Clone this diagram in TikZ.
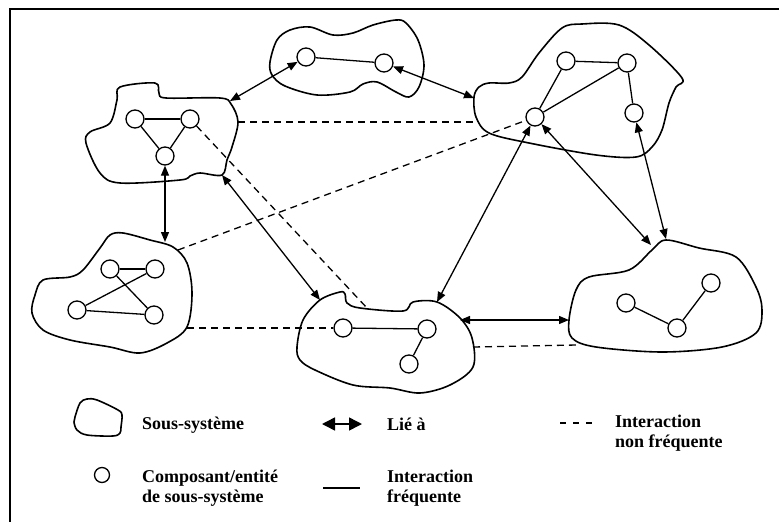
\documentclass[tikz,border=0pt]{standalone}
\usepackage{fontspec}
\setmainfont{Liberation Serif}
\usetikzlibrary{arrows.meta}
\begin{document}
\begin{tikzpicture}[x=1pt,y=-1pt,
  blob/.style={line width=1.6pt, line join=round},
  comp/.style={circle, draw, line width=1.3pt, fill=white, minimum size=18pt, inner sep=0pt},
  link/.style={line width=1.3pt},
  rare/.style={line width=1.3pt, dash pattern=on 7pt off 5pt},
  rel/.style={line width=1.3pt, {Triangle[length=10pt,width=8pt]}-{Triangle[length=10pt,width=8pt]}},
  lab/.style={anchor=base west, font=\bfseries\fontsize{18}{20}\selectfont, align=left, inner sep=0pt}]
\useasboundingbox (0,0) rectangle (779,522);

% frame
\draw[line width=1.6pt] (10,522) -- (10,9) -- (779,9);

% components
\node[comp] (s1a) at (135,119) {};
\node[comp] (s1b) at (190,119) {};
\node[comp] (s1c) at (165,156) {};
\node[comp] (s2a) at (306,57) {};
\node[comp] (s2b) at (384,63) {};
\node[comp] (s3a) at (566,61) {};
\node[comp] (s3b) at (627,63) {};
\node[comp] (s3c) at (634,113) {};
\node[comp] (s3d) at (535,117) {};
\node[comp] (s4a) at (110,269) {};
\node[comp] (s4b) at (155,269) {};
\node[comp] (s4c) at (77,310) {};
\node[comp] (s4d) at (154,315) {};
\node[comp] (s5a) at (343,328) {};
\node[comp] (s5b) at (427,329) {};
\node[comp] (s5c) at (409,364) {};
\node[comp] (s6a) at (626,303) {};
\node[comp] (s6b) at (677,328) {};
\node[comp] (s6c) at (711,283) {};

% points on subsystem outlines
\coordinate (b12) at (230,101);
\coordinate (b23) at (474,98);
\coordinate (b14) at (165,242);
\coordinate (b15) at (222,175);
\coordinate (b51) at (320,300);
\coordinate (b53) at (437,302);
\coordinate (b63a) at (651,245);
\coordinate (b63b) at (666,239);
\coordinate (b56) at (460,320);
\coordinate (b65) at (569,320);
\coordinate (d13a) at (238,122);
\coordinate (d13b) at (474,122);
\coordinate (d15) at (367,308);
\coordinate (d43) at (178,250);
\coordinate (d45) at (187,328);
\coordinate (d56a) at (473,347);
\coordinate (d56b) at (577,345);

% infrequent interactions
\draw[rare] (d13a) -- (d13b);
\draw[rare] (s1b) -- (d15);
\draw[rare] (d43) -- (s3d);
\draw[rare] (d45) -- (s5a);
\draw[rare] (d56a) -- (d56b);

% links between subsystems
\draw[rel] (b12) -- (s2a);
\draw[rel] (s2b) -- (b23);
\draw[rel] (s1c) -- (b14);
\draw[rel] (b15) -- (b51);
\draw[rel] (s3d) -- (b53);
\draw[rel] (s3d) -- (b63a);
\draw[rel] (s3c) -- (b63b);
\draw[rel] (b56) -- (b65);

% subsystem outlines
\draw[blob] plot[smooth cycle, tension=0.55] coordinates {(120,87) (155,83) (159,93) (166,98) (220,98) (231,104) (238,122) (232,147) (227,160) (222,175) (200,173) (190,176) (180,180) (120,183) (100,173) (86,143) (90,132) (110,123) (117,100)};
\draw[blob] plot[smooth cycle, tension=0.55] coordinates {(270,62) (277,40) (290,30) (310,27) (333,35) (353,33) (373,25) (396,20) (406,23) (418,40) (424,65) (419,87) (409,97) (396,92) (377,82) (363,84) (350,92) (317,95) (285,86) (272,75)};
\draw[blob] plot[smooth cycle, tension=0.55] coordinates {(474,97) (479,87) (489,83) (509,83) (522,77) (539,53) (562,28) (582,24) (619,25) (649,45) (682,78) (676,87) (669,103) (662,130) (652,147) (636,157) (596,155) (529,143) (489,133) (476,117)};
\draw[blob] plot[smooth cycle, tension=0.55] coordinates {(32,313) (35,295) (43,280) (70,277) (83,270) (100,248) (110,235) (123,233) (150,240) (173,247) (187,263) (192,293) (187,327) (167,343) (140,353) (110,347) (70,340) (43,330)};
\draw[blob] plot[smooth cycle, tension=0.55] coordinates {(297,347) (303,320) (320,300) (340,292) (345,294) (347,303) (360,308) (403,311) (413,302) (437,302) (460,318) (472,338) (473,367) (450,385) (420,393) (390,388) (353,385) (315,370) (300,360)};
\draw[blob] plot[smooth cycle, tension=0.55] coordinates {(569,320) (576,290) (589,277) (629,270) (652,250) (666,240) (699,248) (736,257) (756,287) (762,310) (756,333) (722,347) (662,352) (596,347) (572,338)};

% frequent interactions inside subsystems
\draw[link] (s1a) -- (s1b);
\draw[link] (s1a) -- (s1c);
\draw[link] (s1b) -- (s1c);
\draw[link] (s2a) -- (s2b);
\draw[link] (s3a) -- (s3b);
\draw[link] (s3a) -- (s3d);
\draw[link] (s3d) -- (s3b);
\draw[link] (s3b) -- (s3c);
\draw[link] (s4a) -- (s4b);
\draw[link] (s4a) -- (s4d);
\draw[link] (s4b) -- (s4c);
\draw[link] (s4c) -- (s4d);
\draw[link] (s5a) -- (s5b);
\draw[link] (s5b) -- (s5c);
\draw[link] (s6a) -- (s6b);
\draw[link] (s6b) -- (s6c);

% legend (multi-line labels are placed by the baseline of their last line)
\draw[blob] plot[smooth cycle, tension=0.55] coordinates {(75,417) (80,403) (87,399) (97,400) (118,410) (122,415) (121,427) (120,433) (113,436) (87,435) (77,430) (74,422)};
\node[lab] (tsub) at (142,429) {Sous-système};

\coordinate (la1) at (322,424);
\coordinate (la2) at (362,424);
\draw[line width=1.5pt, {Triangle[length=13pt,width=13pt]}-{Triangle[length=13pt,width=13pt]}] (la1) -- (la2);
\node[lab] (tlie) at (387,430) {Lié à};

\coordinate (ld1) at (560,423);
\coordinate (ld2) at (593,423);
\draw[line width=1.6pt, dash pattern=on 6pt off 7pt] (ld1) -- (ld2);
\node[lab] (trare) at (615,447) {Interaction\\non fréquente};

\node[comp, minimum size=15pt] (lcomp) at (102,475) {};
\node[lab] (tcomp) at (142,502) {Composant/entité\\de sous-système};

\coordinate (ll1) at (323,488);
\coordinate (ll2) at (360,488);
\draw[line width=1.8pt] (ll1) -- (ll2);
\node[lab] (tfreq) at (387,502) {Interaction\\fréquente};
\end{tikzpicture}
\end{document}
